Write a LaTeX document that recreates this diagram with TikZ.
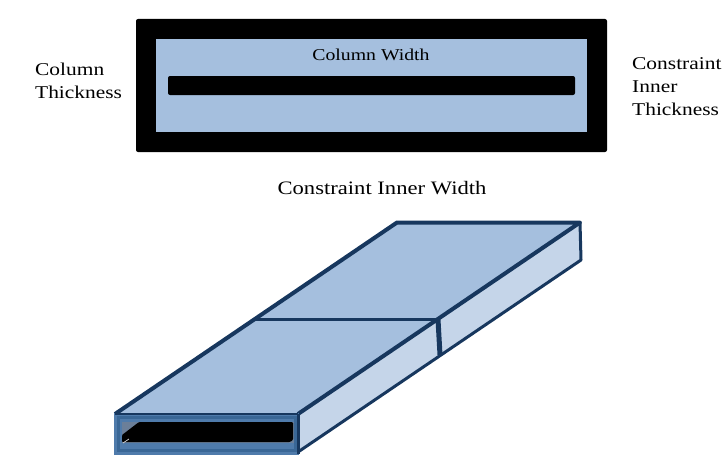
\documentclass[tikz,border=0pt]{standalone}
\usepackage{fontspec}
\setmainfont[FakeStretch=1.19]{Liberation Serif}
\definecolor{faceblue}{HTML}{A5BFDE}
\definecolor{sideblue}{HTML}{C5D5E9}
\definecolor{edgeblue}{HTML}{17375E}
\definecolor{frontblue}{HTML}{4F7BAB}
\definecolor{frontdark}{HTML}{3A6796}
\definecolor{holegrey}{HTML}{6B7F99}

\begin{document}
\begin{tikzpicture}[x=1pt,y=-1pt]
    \tikzstyle{captiontext}=[inner sep=0pt,font=\fontsize{19}{21.5}\selectfont,align=left,text=black]
    \tikzstyle{sidetext}=[captiontext,font=\fontsize{18}{23}\selectfont]
    \tikzstyle{edgeline}=[draw=edgeblue,line width=4pt,line join=round]
    \useasboundingbox (0,0) rectangle (727,460);
    % section at the top
    \fill[black,rounded corners=2pt] (136,19) rectangle (607,152);
    \fill[faceblue] (156,39) rectangle (587,132);
    \fill[black,rounded corners=2pt] (168,76) rectangle (575,95);
    \node[captiontext,font=\fontsize{16.6}{20}\selectfont,anchor=center] (widthtext) at (371,55) {Column Width};
    \node[sidetext,anchor=west] (thicktext) at (35,80.5) {Column\\Thickness};
    \node[sidetext,anchor=west] (innerthicktext) at (632,87) {Constraint\\Inner\\Thickness};
    \node[captiontext,anchor=center] (innerwidthtext) at (382,188) {Constraint Inner Width};
    % column seen from above
    \fill[faceblue] (115,414) -- (255,319.5) -- (397,222.5) -- (580,222.5) -- (298,414) -- cycle;
    \fill[sideblue] (298,414) -- (580,222.5) -- (581,260) -- (298,452) -- cycle;
    \draw[edgeline] (115,414) -- (397,222.5) -- (580,222.5) -- (298,414);
    \draw[edgeline,line width=3pt] (580,222.5) -- (581,260) -- (298,452);
    \draw[edgeline,line width=3.5pt] (255,319.5) -- (438,319.5);
    \draw[edgeline,line width=5pt] (438,319.5) -- (440,355);
    % open end of the column
    \fill[frontblue] (114,413) rectangle (299,455);
    \draw[frontdark,line width=3pt] (118,417) rectangle (295,450);
    \fill[holegrey] (122,422) rectangle (294,443);
    \fill[black,rounded corners=1pt] (122,435) -- (139,422) -- (293,422) -- (293,440) -- (290,442) -- (122,442) -- cycle;
    \draw[white!80!black,line width=0.8pt] (123,443) -- (129,439);
    \draw[edgeblue,line width=2pt] (115,414) -- (298,414);
    \draw[edgeblue,line width=3pt] (298,414) -- (298,454);
\end{tikzpicture}
\end{document}
